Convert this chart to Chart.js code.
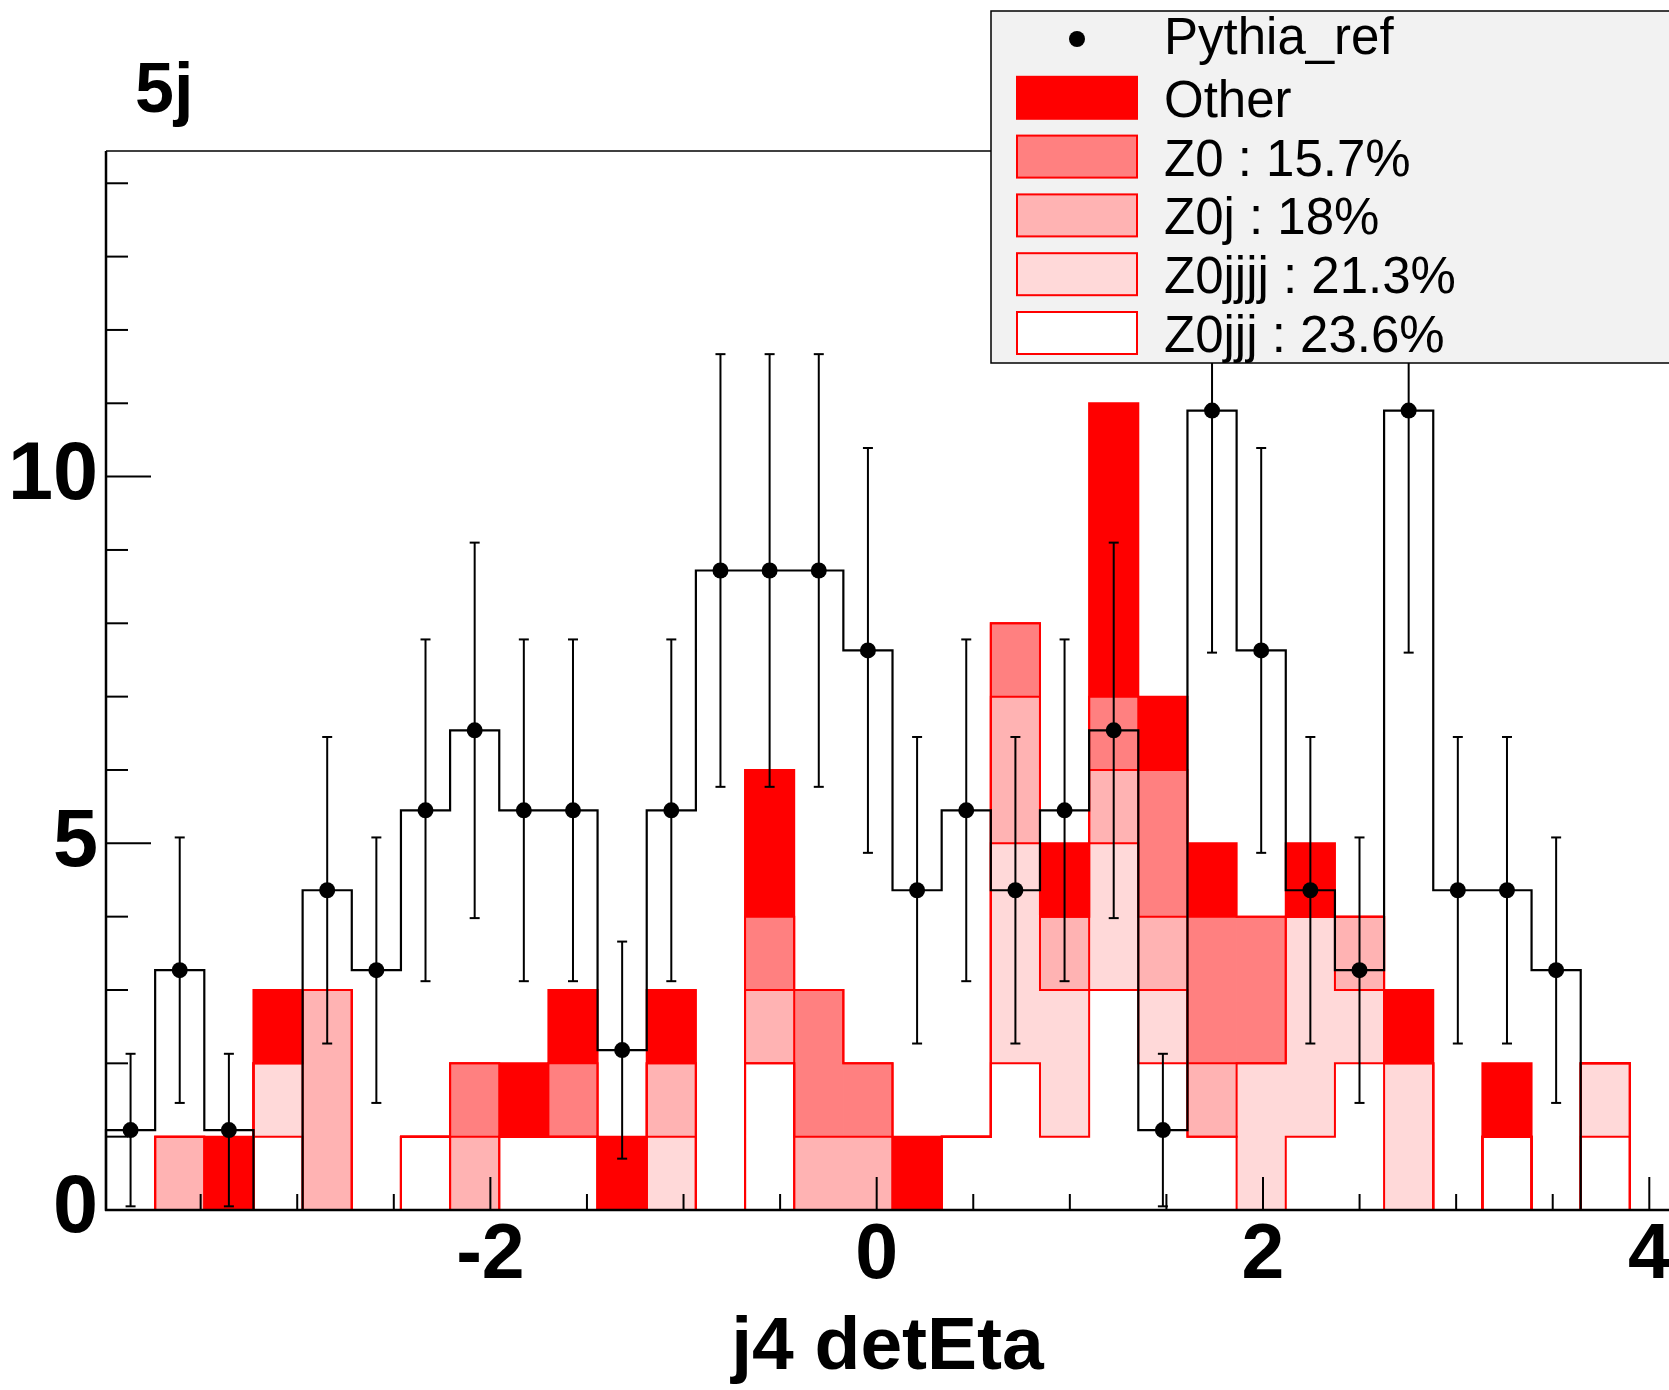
<!DOCTYPE html>
<html>
<head>
<meta charset="utf-8">
<title>5j - j4 detEta</title>
<script src="https://cdn.jsdelivr.net/npm/chart.js@4.4.1/dist/chart.umd.min.js"></script>
<style>
  html, body { margin: 0; padding: 0; background: #fff; }
  #wrap { width: 1669px; height: 1390px; position: relative; }
</style>
</head>
<body>
<div id="wrap"><canvas id="chart"></canvas></div>
<script>
// j4 detEta, 32 bins of width 0.2545 starting at -3.99
const binCenters = [
  -3.8628, -3.6083, -3.3538, -3.0993, -2.8448, -2.5903, -2.3358, -2.0813,
  -1.8268, -1.5723, -1.3178, -1.0633, -0.8088, -0.5543, -0.2998, -0.0453,
   0.2092,  0.4637,  0.7182,  0.9727,  1.2272,  1.4817,  1.7362,  1.9907,
   2.2452,  2.4997,  2.7542,  3.0087,  3.2632,  3.5177,  3.7722,  4.0267
];

// reference points and their errors
const pythiaRef = [1.09, 3.27, 1.09, 0, 4.36, 3.27, 5.45, 6.54, 5.45, 5.45, 2.18, 5.45, 8.72, 8.72, 8.72, 7.63,
                   4.36, 5.45, 4.36, 5.45, 6.54, 1.09, 10.9, 7.63, 4.36, 3.27, 10.9, 4.36, 4.36, 3.27, 0, 0];
const pythiaErr = [1.04, 1.81, 1.04, 0, 2.09, 1.81, 2.33, 2.56, 2.33, 2.33, 1.48, 2.33, 2.95, 2.95, 2.95, 2.76,
                   2.09, 2.33, 2.09, 2.33, 2.56, 1.04, 3.3, 2.76, 2.09, 1.81, 3.3, 2.09, 2.09, 1.81, 0, 0];

// stacked samples, bottom to top
const z0jjj  = [0,0,0,1,0,0,1,0,1,1,0,0,0,2,0,0,0,1,2,1,3,2,1,0,1,2,0,0,1,0,1,0];
const z0jjjj = [0,0,0,1,0,0,0,0,0,0,0,1,0,0,0,0,0,0,3,2,2,1,0,2,3,1,2,0,0,0,1,0];
const z0j    = [0,1,0,0,3,0,0,1,0,0,0,1,0,1,1,1,0,0,2,1,1,1,1,0,0,1,0,0,0,0,0,0];
const z0     = [0,0,0,0,0,0,0,1,0,1,0,0,0,1,2,1,0,0,1,0,1,2,2,2,0,0,0,0,0,0,0,0];
const other  = [0,0,1,1,0,0,0,0,1,1,1,1,0,2,0,0,1,0,0,1,4,1,1,0,1,0,1,0,1,0,0,0];

const xTickLabels = [-2, 0, 2, 4];
const yTickLabels = [0, 5, 10];

const FONT = "'Liberation Sans', Arial, Helvetica, sans-serif";
const RED = '#ff0000';

Chart.defaults.font.family = FONT;
Chart.defaults.color = '#000';

const halfBin = (binCenters[1] - binCenters[0]) / 2;

// cumulative sums of the stack, used for the red outlines
const layers = [z0jjj, z0jjjj, z0j, z0, other];
const cumulative = [];
layers.reduce((acc, layer) => {
  const next = acc.map((v, i) => v + layer[i]);
  cumulative.push(next);
  return next;
}, binCenters.map(() => 0));

function stepPath(ctx, x, y, values) {
  const y0 = y.getPixelForValue(0);
  ctx.beginPath();
  ctx.moveTo(x.getPixelForValue(binCenters[0] - halfBin), y0);
  values.forEach((v, i) => {
    const py = y.getPixelForValue(v);
    ctx.lineTo(x.getPixelForValue(binCenters[i] - halfBin), py);
    ctx.lineTo(x.getPixelForValue(binCenters[i] + halfBin), py);
  });
  ctx.lineTo(x.getPixelForValue(binCenters[binCenters.length - 1] + halfBin), y0);
  ctx.stroke();
}

function line(ctx, x1, y1, x2, y2) {
  ctx.beginPath();
  ctx.moveTo(x1, y1);
  ctx.lineTo(x2, y2);
  ctx.stroke();
}

const histDecor = {
  id: 'histDecor',
  // outlines, reference step and error bars go in just before the markers
  beforeDatasetDraw(chart, args) {
    if (args.meta.type !== 'line') return;
    const { ctx } = chart;
    const x = chart.scales.x, y = chart.scales.y;
    ctx.save();
    ctx.lineJoin = 'miter';
    ctx.strokeStyle = RED;
    ctx.lineWidth = 2;
    cumulative.forEach(c => stepPath(ctx, x, y, c));

    ctx.strokeStyle = '#000';
    ctx.lineWidth = 2.2;
    stepPath(ctx, x, y, pythiaRef);

    ctx.lineWidth = 2;
    pythiaRef.forEach((v, i) => {
      if (!v) return;
      const px = x.getPixelForValue(binCenters[i]);
      const top = y.getPixelForValue(v + pythiaErr[i]);
      const bot = y.getPixelForValue(v - pythiaErr[i]);
      line(ctx, px, top, px, bot);
      line(ctx, px - 5, top, px + 5, top);
      line(ctx, px - 5, bot, px + 5, bot);
    });
    ctx.restore();
  },
  afterDatasetsDraw(chart) {
    const { ctx, chartArea } = chart;
    const { left, right, top, bottom } = chartArea;
    const x = chart.scales.x, y = chart.scales.y;
    ctx.save();
    ctx.strokeStyle = '#000';
    ctx.lineWidth = 2;
    x.ticks.forEach(t => {
      if (t.value <= x.min) return;
      const len = t.value % 2 === 0 ? 33 : 16;
      const px = x.getPixelForValue(t.value);
      line(ctx, px, bottom, px, bottom - len);
    });
    y.ticks.forEach(t => {
      if (!Number.isInteger(t.value)) return;
      const len = t.value % 5 === 0 ? 45 : 22;
      const py = y.getPixelForValue(t.value);
      line(ctx, left, py, left + len, py);
    });
    ctx.lineWidth = 1.5;
    line(ctx, left, top, right, top);
    ctx.lineWidth = 2.5;
    line(ctx, left, top, left, bottom + 1);
    line(ctx, left - 1, bottom, right, bottom);
    ctx.restore();
  },
  afterDraw(chart) {
    const { ctx } = chart;
    ctx.save();
    // pad title
    ctx.fillStyle = '#000';
    ctx.font = 'bold 70px ' + FONT;
    ctx.textAlign = 'left';
    ctx.textBaseline = 'alphabetic';
    ctx.fillText('5j', 135, 112);

    // legend box
    const lx = 991, ly = 11, lw = 720, lh = 352;
    ctx.fillStyle = '#f2f2f2';
    ctx.fillRect(lx, ly, lw, lh);
    ctx.strokeStyle = '#000';
    ctx.lineWidth = 1.5;
    ctx.strokeRect(lx, ly, lw, lh);

    const ds = chart.data.datasets;
    const entries = [ds[0]].concat(ds.slice(1).reverse());
    ctx.font = '51px ' + FONT;
    ctx.textBaseline = 'middle';
    entries.forEach((d, i) => {
      const cy = 39 + 58.8 * i;
      if (d.type === 'line') {
        ctx.fillStyle = '#000';
        ctx.beginPath();
        ctx.arc(1077, cy, 8, 0, Math.PI * 2);
        ctx.fill();
      } else {
        ctx.fillStyle = d.backgroundColor;
        ctx.fillRect(1017, cy - 21, 120, 42);
        ctx.strokeStyle = RED;
        ctx.lineWidth = 2;
        ctx.strokeRect(1017, cy - 21, 120, 42);
      }
      ctx.fillStyle = '#000';
      ctx.fillText(d.label, 1164, cy + (i === 0 ? 1 : 5));
    });
    ctx.restore();
  }
};

const barSet = (label, data, color) => ({
  type: 'bar',
  label,
  data,
  backgroundColor: color,
  borderWidth: 0,
  barPercentage: 1,
  categoryPercentage: 1,
  order: 0
});

new Chart(document.getElementById('chart'), {
  type: 'bar',
  data: {
    labels: binCenters,
    datasets: [
      {
        type: 'line',
        label: 'Pythia_ref',
        data: pythiaRef.map(v => (v > 0 ? v : null)),
        showLine: false,
        pointRadius: 8,
        pointBackgroundColor: '#000',
        pointBorderColor: '#000',
        pointBorderWidth: 0,
        stack: 'data',
        order: -1
      },
      barSet('Z0jjj : 23.6%', z0jjj, '#ffffff'),
      barSet('Z0jjjj : 21.3%', z0jjjj, '#ffd9d9'),
      barSet('Z0j : 18%', z0j, '#ffb3b3'),
      barSet('Z0 : 15.7%', z0, '#ff8080'),
      barSet('Other', other, RED)
    ]
  },
  options: {
    responsive: true,
    maintainAspectRatio: false,
    animation: false,
    events: [],
    // no auto padding: the marker radius would otherwise shrink the plot on the right
    layout: { autoPadding: false, padding: { top: 151, left: 0, right: 0, bottom: 0 } },
    plugins: {
      legend: { display: false },
      tooltip: { enabled: false },
      title: { display: false }
    },
    scales: {
      x: {
        type: 'linear',
        stacked: true,
        offset: false,
        min: -3.99,
        max: 4.102,
        grid: { display: false, drawTicks: false, offset: false },
        border: { display: false },
        ticks: {
          stepSize: 0.5,
          includeBounds: false,
          autoSkip: false,
          maxRotation: 0,
          padding: 1,
          font: { size: 77, weight: 'bold' },
          callback: v => (xTickLabels.includes(v) ? String(v) : '')
        },
        title: {
          display: true,
          text: 'j4 detEta',
          font: { size: 75, weight: 'bold', lineHeight: 1 },
          padding: { top: 0, bottom: 4 }
        },
        afterFit: s => { s.height = 180; s.paddingLeft = 0; s.paddingRight = 0; }
      },
      y: {
        stacked: true,
        min: 0,
        max: 14.44,
        grid: { display: false, drawTicks: false },
        border: { display: false },
        ticks: {
          stepSize: 1,
          includeBounds: false,
          autoSkip: false,
          padding: 8,
          font: { size: 81, weight: 'bold' },
          callback: v => (yTickLabels.includes(v) ? String(v) : '')
        },
        afterFit: s => { s.width = 106; s.paddingTop = 0; s.paddingBottom = 0; }
      }
    }
  },
  plugins: [histDecor]
});
</script>
</body>
</html>
